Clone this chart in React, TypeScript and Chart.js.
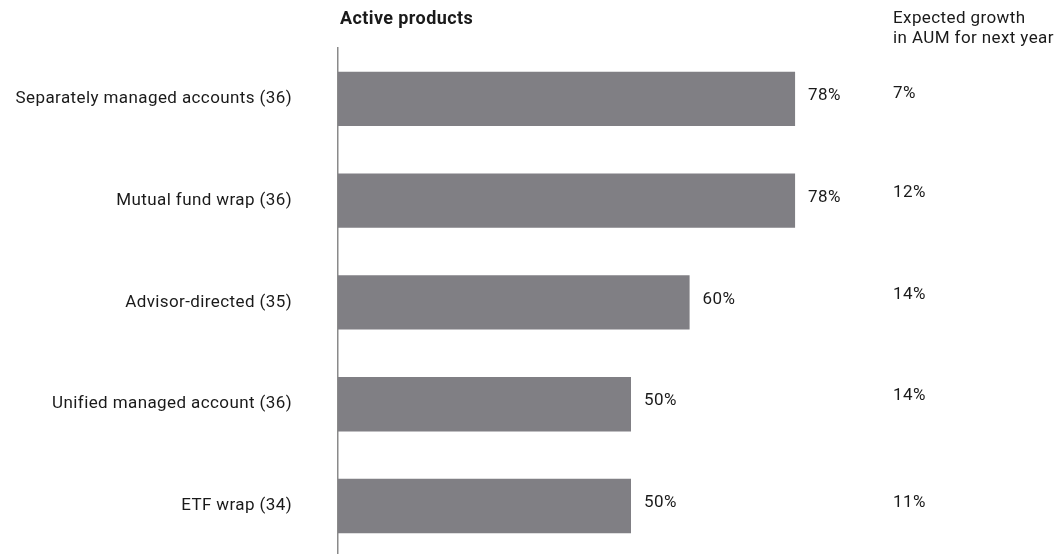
import React, { useEffect, useRef } from "react";
import { Chart, registerables } from "chart.js";

Chart.register(...registerables);

const categories = [
  "Separately managed accounts (36)",
  "Mutual fund wrap (36)",
  "Advisor-directed (35)",
  "Unified managed account (36)",
  "ETF wrap (34)",
];
const activeProducts = [78, 78, 60, 50, 50];
const expectedGrowth = [7, 12, 14, 14, 11];
const chartTitle = "Active products";
const growthHeader = ["Expected growth", "in AUM for next year"];

const FONT = "Roboto, sans-serif";
const FS = 17;
const SPACING = "0.4px";

export default function App() {
  const ref = useRef<HTMLCanvasElement | null>(null);

  useEffect(() => {
    document.body.style.margin = "0";
    const canvas = ref.current;
    if (!canvas) return;

    const spacingPlugin = {
      id: "letterSpacing",
      beforeDraw(chart: any) {
        (chart.ctx as any).letterSpacing = SPACING;
      },
    };

    const labelsPlugin = {
      id: "customLabels",
      afterDatasetsDraw(chart: any) {
        const { ctx, chartArea } = chart;
        const meta = chart.getDatasetMeta(0);
        const yScale = chart.scales.y;
        ctx.save();
        (ctx as any).letterSpacing = SPACING;
        ctx.fillStyle = "#1a1a1a";
        ctx.font = `${FS}px ${FONT}`;
        ctx.textBaseline = "middle";
        ctx.textAlign = "left";
        meta.data.forEach((bar: any, i: number) => {
          ctx.fillText(`${activeProducts[i]}%`, bar.x + 13, bar.y - 3);
        });
        const gx = chartArea.right - 31;
        const shifts = [-5, -8, -8, -8, -3];
        expectedGrowth.forEach((v, i) => {
          const y = yScale.getPixelForValue(i) + shifts[i];
          ctx.fillText(`${v}%`, gx, y);
        });
        growthHeader.forEach((t, i) => {
          ctx.fillText(t, gx, 19 + i * 19.5);
        });
        ctx.font = `bold ${FS + 1}px ${FONT}`;
        ctx.fillText(chartTitle, chartArea.left + 2, 19);
        ctx.restore();
      },
    };

    const chart = new Chart(canvas, {
      type: "bar",
      data: {
        labels: categories,
        datasets: [
          {
            data: activeProducts,
            backgroundColor: "#807f84",
            borderWidth: 0,
            categoryPercentage: 1,
            barPercentage: 0.535,
          },
        ],
      },
      options: {
        indexAxis: "y",
        animation: false,
        responsive: true,
        maintainAspectRatio: false,
        layout: { padding: { top: 48, right: 139, bottom: 0, left: 0 } },
        plugins: {
          legend: { display: false },
          tooltip: { enabled: false },
          title: { display: false },
        },
        scales: {
          x: {
            display: false,
            min: 0,
            max: 100,
          },
          y: {
            grid: {
              display: true,
              drawOnChartArea: false,
              drawTicks: true,
              tickLength: 46,
              color: "rgba(0,0,0,0)",
            },
            border: { display: true, color: "#8a8a8a", width: 1.5 },
            ticks: {
              color: "#1a1a1a",
              font: { family: FONT, size: FS },
              padding: 0,
            },
            afterFit(scale: any) {
              scale.width = 338;
            },
          },
        },
      },
      plugins: [spacingPlugin, labelsPlugin],
    });

    return () => chart.destroy();
  }, []);

  return (
    <div style={{ position: "relative", width: 1063, height: 554, overflow: "hidden", background: "#fff" }}>
      <div style={{ position: "absolute", left: 0, top: 0, width: 1063, height: 567 }}>
        <canvas ref={ref} />
      </div>
    </div>
  );
}
